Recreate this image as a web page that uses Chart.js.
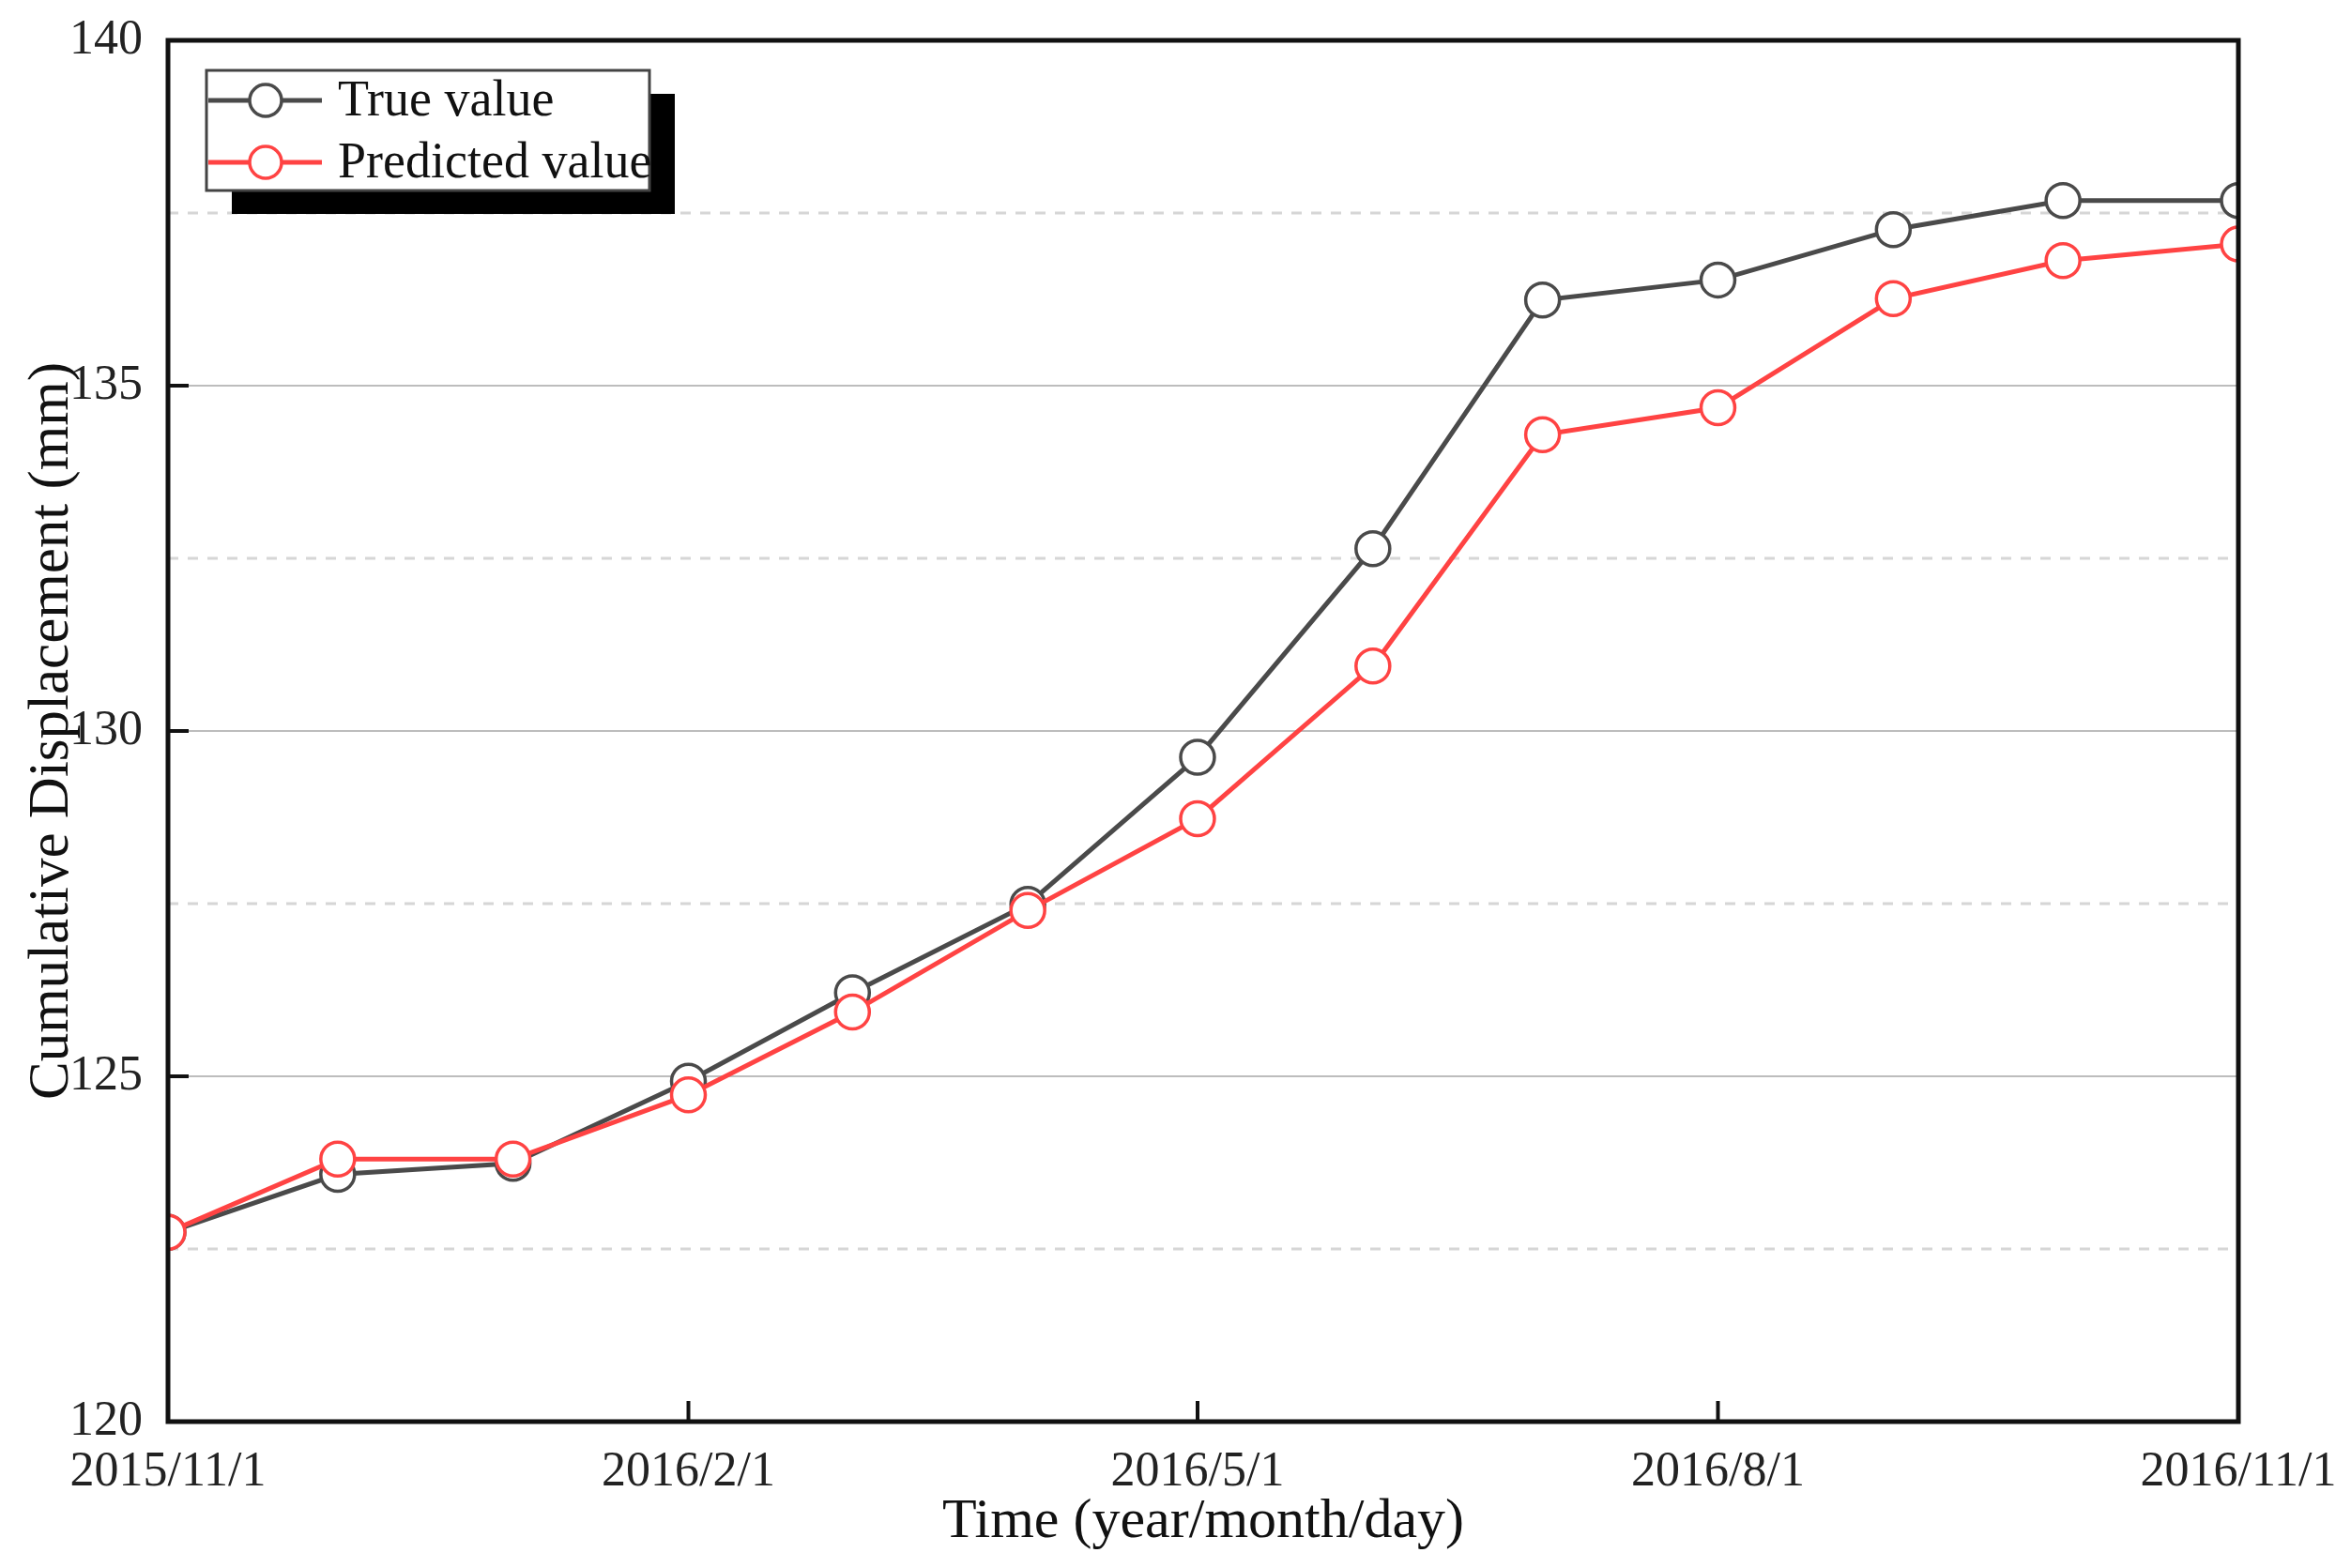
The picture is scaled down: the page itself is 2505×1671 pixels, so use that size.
<!DOCTYPE html>
<html>
<head>
<meta charset="utf-8">
<script src="https://cdn.jsdelivr.net/npm/chart.js@4.4.1/dist/chart.umd.min.js"></script>
<style>
  html, body { margin: 0; padding: 0; background: #fff; }
  #wrap { width: 2505px; height: 1671px; }
</style>
</head>
<body>
<div id="wrap"><canvas id="chart" width="2505" height="1671"></canvas></div>
<script>
// monthly observations
const dates = [
  '2015/11/1', '2015/12/1', '2016/1/1', '2016/2/1', '2016/3/1', '2016/4/1', '2016/5/1',
  '2016/6/1', '2016/7/1', '2016/8/1', '2016/9/1', '2016/10/1', '2016/11/1'
];
const trueValues = [122.74, 123.58, 123.74, 124.93, 126.21, 127.49, 129.62, 132.64, 136.24, 136.53, 137.26, 137.68, 137.68];
const predictedValues = [122.74, 123.80, 123.80, 124.73, 125.93, 127.40, 128.73, 130.94, 134.29, 134.68, 136.26, 136.81, 137.05];

const xTickLabels = ['2015/11/1', '2016/2/1', '2016/5/1', '2016/8/1', '2016/11/1'];
const yTicks = [120, 125, 130, 135, 140];
const yMinorGrid = [122.5, 127.5, 132.5, 137.5];

const TRUE_COLOR = '#4a4a4a';
const PRED_COLOR = '#ff4343';
const FONT = "'Liberation Serif', 'Times New Roman', serif";

function dayOf(str) {
  const [y, m, d] = str.split('/').map(Number);
  return Date.UTC(y, m - 1, d) / 86400000;
}
const startDay = dayOf(dates[0]);
const toDays = s => dayOf(s) - startDay;
const xTickDays = xTickLabels.map(toDays);

function toPoints(values) {
  return values.map((v, i) => ({ x: toDays(dates[i]), y: v }));
}

const minorGridPlugin = {
  id: 'minorGrid',
  beforeDatasetsDraw(chart) {
    const { ctx, chartArea, scales } = chart;
    ctx.save();
    ctx.strokeStyle = '#d6d6d6';
    ctx.lineWidth = 3;
    ctx.setLineDash([11, 10]);
    yMinorGrid.forEach(v => {
      const y = Math.round(scales.y.getPixelForValue(v));
      ctx.beginPath();
      ctx.moveTo(chartArea.left, y);
      ctx.lineTo(chartArea.right, y);
      ctx.stroke();
    });
    ctx.restore();
  }
};

const framePlugin = {
  id: 'frame',
  afterDatasetsDraw(chart) {
    const { ctx, chartArea, scales } = chart;
    const { left, right, top, bottom } = chartArea;
    ctx.save();
    ctx.strokeStyle = '#111';
    ctx.lineWidth = 5;
    ctx.strokeRect(left, top, right - left, bottom - top);

    // inward tick marks
    ctx.lineWidth = 4;
    yTicks.slice(1, -1).forEach(v => {
      const y = scales.y.getPixelForValue(v);
      ctx.beginPath();
      ctx.moveTo(left, y);
      ctx.lineTo(left + 22, y);
      ctx.stroke();
    });
    xTickDays.slice(1, -1).forEach(v => {
      const x = scales.x.getPixelForValue(v);
      ctx.beginPath();
      ctx.moveTo(x, bottom);
      ctx.lineTo(x, bottom - 22);
      ctx.stroke();
    });
    ctx.restore();
  }
};

const legendPlugin = {
  id: 'boxLegend',
  afterDraw(chart) {
    const { ctx, chartArea } = chart;
    const boxX = chartArea.left + 41;
    const boxY = chartArea.top + 32;
    const boxW = 472;
    const boxH = 128;

    ctx.save();
    ctx.fillStyle = '#000';
    ctx.fillRect(boxX + 27, boxY + 25, boxW, boxH);
    ctx.fillStyle = '#fff';
    ctx.fillRect(boxX, boxY, boxW, boxH);
    ctx.strokeStyle = '#444';
    ctx.lineWidth = 3;
    ctx.strokeRect(boxX, boxY, boxW, boxH);

    const entries = [chart.data.datasets[0], chart.data.datasets[1]];
    entries.forEach((ds, i) => {
      const y = boxY + 32 + i * 66;
      ctx.strokeStyle = ds.borderColor;
      ctx.lineWidth = 5;
      ctx.beginPath();
      ctx.moveTo(boxX + 2, y);
      ctx.lineTo(boxX + 123, y);
      ctx.stroke();

      ctx.fillStyle = '#fff';
      ctx.lineWidth = 3.5;
      ctx.beginPath();
      ctx.arc(boxX + 63, y, 17, 0, Math.PI * 2);
      ctx.fill();
      ctx.stroke();

      ctx.fillStyle = '#111';
      ctx.font = `54px ${FONT}`;
      ctx.textAlign = 'left';
      ctx.textBaseline = 'middle';
      ctx.fillText(ds.label, boxX + 140, y + 2);
    });
    ctx.restore();
  }
};

const canvas = document.getElementById('chart');

new Chart(canvas, {
  type: 'line',
  data: {
    datasets: [
      {
        label: 'True value',
        data: toPoints(trueValues),
        borderColor: TRUE_COLOR,
        pointBorderColor: TRUE_COLOR,
        pointBackgroundColor: '#fff',
        borderWidth: 5,
        pointRadius: 18,
        pointBorderWidth: 3.5,
        order: 1,
        clip: 0
      },
      {
        label: 'Predicted value',
        data: toPoints(predictedValues),
        borderColor: PRED_COLOR,
        pointBorderColor: PRED_COLOR,
        pointBackgroundColor: '#fff',
        borderWidth: 5,
        pointRadius: 18,
        pointBorderWidth: 3.5,
        order: 0,
        clip: 0
      }
    ]
  },
  options: {
    responsive: false,
    animation: false,
    devicePixelRatio: 1,
    layout: { padding: { top: 43, right: 120, left: 0, bottom: 0 } },
    plugins: {
      legend: { display: false },
      tooltip: { enabled: false }
    },
    scales: {
      x: {
        type: 'linear',
        min: xTickDays[0],
        max: xTickDays[xTickDays.length - 1],
        afterBuildTicks: scale => {
          scale.ticks = xTickDays.map(v => ({ value: v }));
        },
        afterFit: scale => {
          scale.height = 156;
          scale.paddingLeft = 0;
          scale.paddingRight = 0;
        },
        grid: { display: false },
        border: { display: false },
        ticks: {
          autoSkip: false,
          maxRotation: 0,
          padding: 15,
          color: '#222',
          font: { family: FONT, size: 52 },
          callback: v => xTickLabels[xTickDays.indexOf(v)]
        },
        title: {
          display: true,
          text: 'Time (year/month/day)',
          color: '#111',
          font: { family: FONT, size: 60, lineHeight: 1 },
          padding: { top: 0, bottom: 19 }
        }
      },
      y: {
        min: yTicks[0],
        max: yTicks[yTicks.length - 1],
        afterBuildTicks: scale => {
          scale.ticks = yTicks.map(v => ({ value: v }));
        },
        afterFit: scale => {
          scale.width = 179;
          scale.paddingTop = 0;
          scale.paddingBottom = 0;
        },
        grid: { color: '#bdbdbd', lineWidth: 2, drawTicks: false },
        border: { display: false },
        ticks: {
          padding: 27,
          color: '#222',
          font: { family: FONT, size: 52 }
        },
        title: {
          display: true,
          text: 'Cumulative Displacement (mm)',
          color: '#111',
          font: { family: FONT, size: 61, lineHeight: 1 },
          padding: { top: 25, bottom: 0 }
        }
      }
    }
  },
  plugins: [minorGridPlugin, framePlugin, legendPlugin]
});
</script>
</body>
</html>
